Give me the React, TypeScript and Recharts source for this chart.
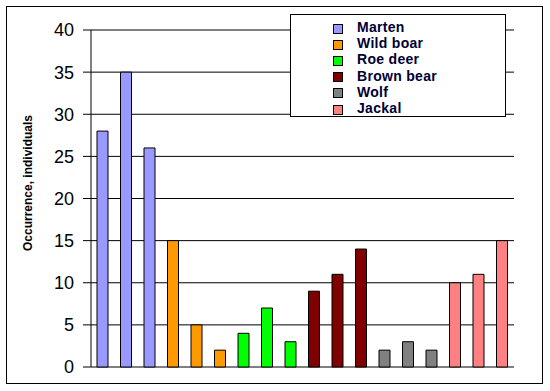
import { BarChart, Bar, XAxis, YAxis, CartesianGrid, Legend, Cell } from 'recharts';

const species = ['Marten', 'Wild boar', 'Roe deer', 'Brown bear', 'Wolf', 'Jackal'];
const speciesColors = ['#9999FF', '#FF9900', '#00FF00', '#800000', '#808080', '#FF8080'];

// one bar per observation, species index of each bar
const barSpecies = [0, 0, 0, 1, 1, 1, 2, 2, 2, 3, 3, 3, 4, 4, 4, 5, 5, 5];
const counts = [28, 35, 26, 15, 5, 2, 4, 7, 3, 9, 11, 14, 2, 3, 2, 10, 11, 15];
const yTicks = [0, 5, 10, 15, 20, 25, 30, 35, 40];

const data = counts.map((count, i) => ({
  id: i,
  name: species[barSpecies[i]],
  count,
  color: speciesColors[barSpecies[i]],
}));

const boundaries = Array.from({ length: counts.length + 1 }, (_, i) => i);

const font = 'Arial, "Liberation Sans", sans-serif';

function SpeciesLegend() {
  return (
    <div
      style={{
        width: 216,
        height: 103,
        boxSizing: 'border-box',
        border: '1px solid #000',
        background: '#fff',
        paddingTop: 4,
      }}
    >
      {species.map((s, i) => (
        <div key={s} style={{ height: 16.2, display: 'flex', alignItems: 'center' }}>
          <span
            style={{
              display: 'inline-block',
              width: 10,
              height: 10,
              boxSizing: 'border-box',
              marginLeft: 42,
              marginTop: 3,
              background: speciesColors[i],
              border: '1px solid #000',
            }}
          />
          <span
            style={{
              marginLeft: 14,
              font: `bold 14px ${font}`,
              letterSpacing: 0.3,
              color: '#000033',
            }}
          >
            {s}
          </span>
        </div>
      ))}
    </div>
  );
}

function YTitle() {
  return (
    <text
      x={28}
      y={183}
      transform="rotate(-90 28 183)"
      textAnchor="middle"
      dominantBaseline="central"
      style={{ font: `bold 12px ${font}`, fill: '#000' }}
    >
      Occurrence, individuals
    </text>
  );
}

export default function App() {
  return (
    <div style={{ position: 'absolute', left: 0, top: 0, width: 550, height: 391, background: '#fff' }}>
      <div
        style={{
          position: 'absolute',
          left: 6,
          top: 6,
          width: 537,
          height: 378,
          boxSizing: 'border-box',
          border: '1px solid #000',
        }}
      />
      <BarChart
        width={550}
        height={391}
        data={data}
        margin={{ top: 30, right: 36, bottom: 0, left: 0 }}
        barSize={11}
      >
        <CartesianGrid vertical={false} stroke="#000" strokeOpacity={1} />
        <XAxis dataKey="id" hide />
        <XAxis
          xAxisId="edges"
          type="number"
          domain={[0, counts.length]}
          ticks={boundaries}
          tick={false}
          tickSize={6}
          height={24}
          stroke="#000"
          allowDataOverflow
        />
        <YAxis
          domain={[0, 40]}
          ticks={yTicks}
          interval={0}
          width={91}
          tickSize={8}
          tickMargin={9}
          stroke="#000"
          tick={{ fill: '#000', fontSize: 18, fontFamily: font }}
          label={{ content: () => <YTitle /> }}
        />
        <YAxis
          yAxisId="frame"
          orientation="right"
          width={0}
          tick={false}
          tickLine={false}
          stroke="#000"
        />
        <Legend
          layout="vertical"
          align="center"
          verticalAlign="middle"
          content={() => <SpeciesLegend />}
          wrapperStyle={{ left: 290, top: 14, width: 216, height: 103 }}
        />
        <Bar dataKey="count" stroke="#000" strokeWidth={1} isAnimationActive={false}>
          {data.map((d) => (
            <Cell key={d.id} fill={d.color} />
          ))}
        </Bar>
      </BarChart>
    </div>
  );
}
